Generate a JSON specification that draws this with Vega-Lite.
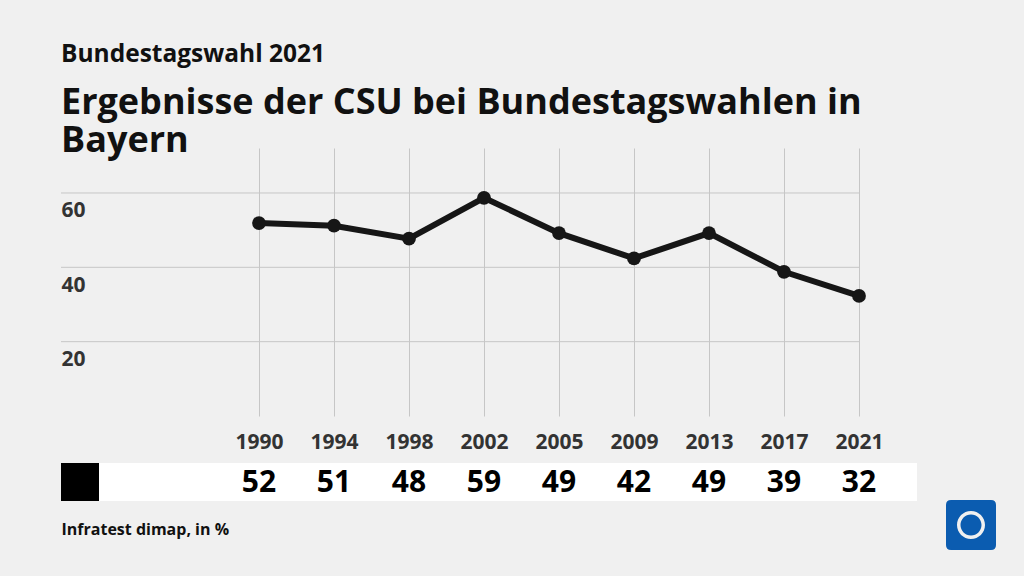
{
  "$schema": "https://vega.github.io/schema/vega-lite/v6.json",
  "background": "#f0f0f0",
  "padding": {"left": 60, "top": 41, "right": 108, "bottom": 41},
  "title": {
    "text": "Bundestagswahl 2021",
    "subtitle": ["Ergebnisse der CSU bei Bundestagswahlen in", "Bayern"],
    "anchor": "start",
    "frame": "group",
    "font": "Open Sans",
    "fontSize": 24.5,
    "fontWeight": "bold",
    "color": "#111111",
    "subtitleFont": "Open Sans",
    "subtitleFontSize": 36,
    "subtitleFontWeight": "bold",
    "subtitleColor": "#111111",
    "subtitleLineHeight": 38,
    "subtitlePadding": 19,
    "offset": -12
  },
  "datasets": {
    "results": [
      {"year": 1990, "value": 51.9, "party": "CSU"},
      {"year": 1994, "value": 51.2, "party": "CSU"},
      {"year": 1998, "value": 47.7, "party": "CSU"},
      {"year": 2002, "value": 58.7, "party": "CSU"},
      {"year": 2005, "value": 49.2, "party": "CSU"},
      {"year": 2009, "value": 42.4, "party": "CSU"},
      {"year": 2013, "value": 49.2, "party": "CSU"},
      {"year": 2017, "value": 38.8, "party": "CSU"},
      {"year": 2021, "value": 32.3, "party": "CSU"}
    ],
    "gridlines": [
      {"value": 20},
      {"value": 40},
      {"value": 60}
    ]
  },
  "spacing": 11,
  "resolve": {
    "scale": {"x": "independent", "color": "independent", "opacity": "independent"},
    "legend": {"color": "independent", "opacity": "independent"}
  },
  "vconcat": [
    {
      "width": 798,
      "height": 268,
      "layer": [
        {
          "data": {"name": "gridlines"},
          "mark": {"type": "rule", "color": "#c6c6c6", "strokeWidth": 1},
          "encoding": {
            "y": {"field": "value", "type": "quantitative", "scale": {"domain": [0, 72.1], "nice": false, "zero": false},
                  "axis": {"title": null, "values": [20, 40, 60], "domain": false, "ticks": false, "tickSize": 0, "grid": false,
                           "labelAlign": "left", "labelPadding": 0, "labelBaseline": "alphabetic", "labelOffset": 24,
                           "labelFontSize": 21, "labelFontWeight": "bold", "labelColor": "#333333", "labelFont": "Open Sans"}}
          }
        },
        {
          "data": {"name": "results"},
          "encoding": {
            "x": {
              "field": "year", "type": "ordinal",
              "scale": {"type": "point", "range": [198, 798], "padding": 0},
              "axis": {"title": null, "labelAngle": 0, "domain": false, "ticks": false, "tickSize": 0,
                       "labelPadding": 32, "labelBaseline": "alphabetic", "labelFontSize": 21,
                       "labelFontWeight": "bold", "labelColor": "#333333", "labelFont": "Open Sans",
                       "grid": true, "gridColor": "#c6c6c6", "gridWidth": 1}
            },
            "y": {"field": "value", "type": "quantitative"}
          },
          "layer": [
            {"mark": {"type": "line", "color": "#161616", "strokeWidth": 6}},
            {"mark": {"type": "point", "filled": true, "size": 190, "color": "#161616", "opacity": 1}}
          ]
        }
      ]
    },
    {
      "data": {"name": "results"},
      "width": 856,
      "height": 38,
      "view": {"fill": "white", "stroke": null},
      "mark": {"type": "text", "fontSize": 30, "fontWeight": "bold", "font": "Open Sans", "baseline": "middle", "dy": 1},
      "encoding": {
        "x": {
          "field": "year", "type": "ordinal",
          "scale": {"type": "point", "range": [198, 798], "padding": 0},
          "axis": {"title": "Infratest dimap, in %", "labels": false, "ticks": false, "domain": false, "grid": false,
                   "titleAnchor": null, "titleX": 0, "titleAlign": "left", "titleFontSize": 16, "titleFontWeight": "bold",
                   "titleFont": "Open Sans", "titleColor": "#111111", "titlePadding": 20}
        },
        "text": {"field": "value", "type": "quantitative", "format": ".0f"},
        "color": {
          "field": "party", "type": "nominal",
          "scale": {"range": ["#000000"]},
          "legend": {"orient": "none", "legendX": 0, "legendY": 0, "title": null, "symbolType": "square",
                     "symbolSize": 1444, "symbolFillColor": "#161616", "symbolStrokeWidth": 0,
                     "labelExpr": "''", "padding": 0, "symbolOffset": 0}
        },
        "opacity": {
          "datum": "tagesschau", "type": "ordinal",
          "scale": {"range": [1, 1]},
          "legend": {"orient": "none", "legendX": 885, "legendY": 37, "title": null,
                     "symbolType": "M-0.8,-1 H0.8 Q1,-1 1,-0.8 V0.8 Q1,1 0.8,1 H-0.8 Q-1,1 -1,0.8 V-0.8 Q-1,-1 -0.8,-1 Z M0.56,0 A0.56,0.56 0 1,0 -0.56,0 A0.56,0.56 0 1,0 0.56,0 Z M0.42,0 A0.42,0.42 0 1,1 -0.42,0 A0.42,0.42 0 1,1 0.42,0 Z",
                     "symbolSize": 2500, "symbolFillColor": "#0b5cb0", "symbolStrokeWidth": 0, "symbolOpacity": 1,
                     "labelExpr": "''", "padding": 0, "symbolOffset": 0}
        }
      }
    }
  ],
  "config": {"view": {"stroke": null}, "font": "Open Sans"}
}
